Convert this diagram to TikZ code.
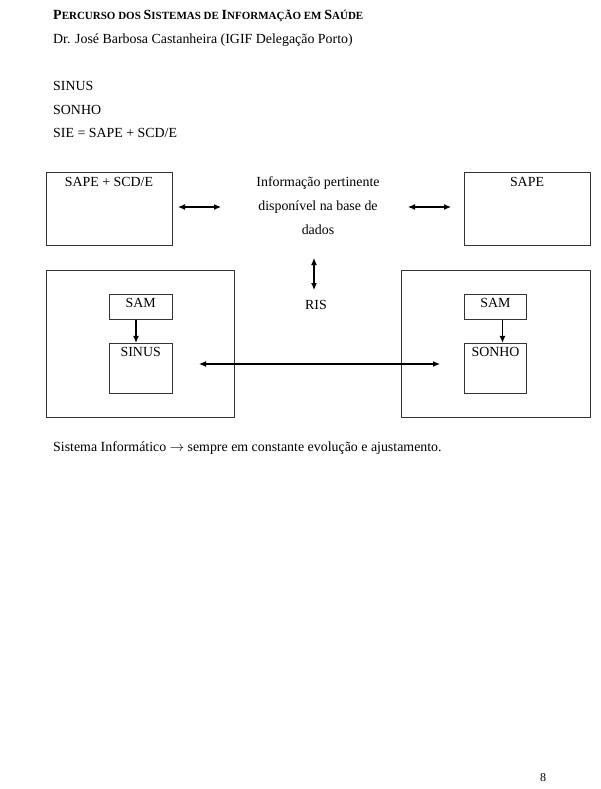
\documentclass[tikz,border=0pt]{standalone}
\usepackage{fontspec}
\setmainfont{Liberation Serif}
\usetikzlibrary{arrows.meta}
\newcommand\tbig[1]{{\fontsize{14}{16}\selectfont #1}}
\newcommand\tsm[1]{{\fontsize{11}{13}\selectfont #1}}
\begin{document}
\begin{tikzpicture}[x=1pt,y=-1pt,
  bodytext/.style={anchor=base west,inner sep=0pt,font=\fontsize{13.9}{16}\selectfont},
  dtext/.style={inner sep=0pt,font=\fontsize{13.9}{16}\selectfont},
  boxstyle/.style={draw=black!80,line width=0.9pt,rectangle,inner sep=0pt},
  arr/.style={line width=1.1pt,{Latex[length=7pt,width=6pt]}-{Latex[length=7pt,width=6pt]}},
  arrone/.style={line width=1.1pt,-{Latex[length=7pt,width=6pt]}}]
\useasboundingbox[fill=white] (0,0) rectangle (600,789);

% header text
\node[bodytext] (title) at (53,20) {\bfseries\tbig{P}\tsm{ERCURSO DOS }\tbig{S}\tsm{ISTEMAS DE }\tbig{I}\tsm{NFORMAÇÃO EM }\tbig{S}\tsm{AÚDE}};
\node[bodytext] (author) at (53,43.5) {Dr. José Barbosa Castanheira (IGIF Delegação Porto)};
\node[bodytext] (l1) at (53,91) {SINUS};
\node[bodytext] (l2) at (53,114.5) {SONHO};
\node[bodytext] (l3) at (53,138) {SIE = SAPE + SCD/E};

% top boxes
\node[boxstyle,minimum width=126pt,minimum height=73pt] (box1) at (109,209) {};
\node[dtext,anchor=base] (box1t) at (109,186.5) {SAPE + SCD/E};
\node[boxstyle,minimum width=126pt,minimum height=73pt] (box2) at (527,209) {};
\node[dtext,anchor=base] (box2t) at (527,186.5) {SAPE};

% central text
\node[dtext,anchor=base] (c1) at (318,186.7) {Informação pertinente};
\node[dtext,anchor=base] (c2) at (318,210.4) {disponível na base de};
\node[dtext,anchor=base] (c3) at (318,234) {dados};
\node[dtext,anchor=base] (ris) at (316,309) {RIS};

% arrows top
\coordinate (a1s) at (178,207);
\coordinate (a1e) at (221,207);
\draw[arr] (a1s) -- (a1e);
\coordinate (a2s) at (408,207);
\coordinate (a2e) at (451,207);
\draw[arr] (a2s) -- (a2e);
\coordinate (vt) at (314,258);
\coordinate (vb) at (314,290);
\draw[arr] (vt) -- (vb);

% big boxes
\node[boxstyle,minimum width=188pt,minimum height=147.5pt] (bigL) at (140,343.75) {};
\node[boxstyle,minimum width=188.5pt,minimum height=147.5pt] (bigR) at (496,343.75) {};

% inner boxes left
\node[boxstyle,minimum width=63.3pt,minimum height=25pt] (samL) at (140.7,306.8) {};
\node[dtext,anchor=base] (samLt) at (140.7,307.8) {SAM};
\node[boxstyle,minimum width=63.3pt,minimum height=50pt] (sinL) at (140.7,368.3) {};
\node[dtext,anchor=base] (sinLt) at (140.7,356.8) {SINUS};
\draw[arrone] ([xshift=-4.7pt]samL.south) -- ([xshift=-4.7pt]sinL.north);

% inner boxes right
\node[boxstyle,minimum width=62.4pt,minimum height=25pt] (samR) at (495.5,306.8) {};
\node[dtext,anchor=base] (samRt) at (495.5,307.8) {SAM};
\node[boxstyle,minimum width=62.4pt,minimum height=50pt] (sonR) at (495.5,368.3) {};
\node[dtext,anchor=base] (sonRt) at (495.5,356.8) {SONHO};
\draw[arrone] ([xshift=7pt]samR.south) -- ([xshift=7pt]sonR.north);

% long arrow
\coordinate (hl) at (199,364);
\coordinate (hr) at (440,364);
\draw[arr] (hl) -- (hr);

% footer
\node[bodytext] (foot) at (53,451) {Sistema Informático \ensuremath{\rightarrow} sempre em constante evolução e ajustamento.};
\node[anchor=base,inner sep=0pt,font=\fontsize{12}{14}\selectfont] (pnum) at (543,781) {8};
\end{tikzpicture}
\end{document}
